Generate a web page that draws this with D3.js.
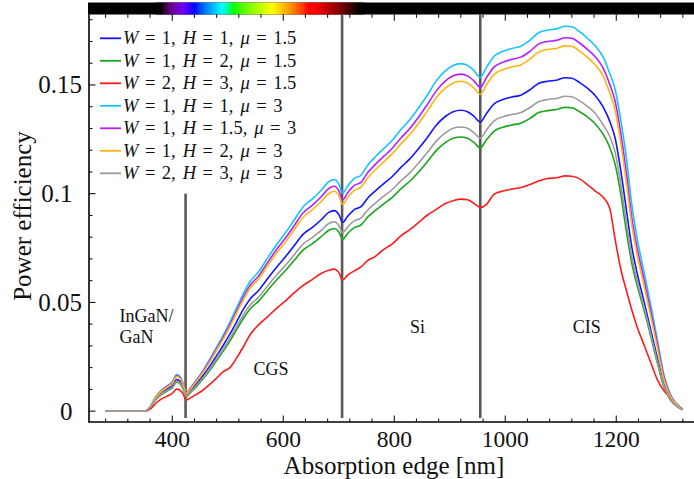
<!DOCTYPE html>
<html><head><meta charset="utf-8">
<script src="https://cdn.jsdelivr.net/npm/d3@7"></script>
<style>
html,body{margin:0;padding:0;background:#fff;}
svg{display:block;font-family:"Liberation Serif","Times New Roman",serif;}
</style></head>
<body><svg id="c" width="694" height="479"></svg>
<script>
// ---- data ----
const wavelengths = [280,350,360,370,380,390,400,408,414,420,425,432,444,456,468,480,492,504,516,528,540,556,572,588,604,620,636,652,668,682,692,700,707,716,728,740,752,766,780,796,812,828,844,860,876,892,906,920,932,944,955,966,980,996,1012,1028,1044,1060,1076,1092,1108,1120,1134,1148,1162,1176,1188,1198,1208,1218,1228,1238,1250,1262,1274,1286,1298,1310,1320];

const effW1H1mu15 = [0,0,0.0017,0.0056,0.0082,0.01,0.0117,0.0145,0.0137,0.0108,0.0071,0.0091,0.0126,0.0165,0.0208,0.0255,0.0303,0.0355,0.0411,0.0468,0.0515,0.0556,0.061,0.0662,0.071,0.0762,0.0814,0.0844,0.0879,0.0914,0.0922,0.0905,0.0868,0.0896,0.0927,0.094,0.0979,0.1013,0.1044,0.1078,0.1121,0.116,0.1208,0.126,0.1316,0.1355,0.1377,0.1384,0.1377,0.1355,0.1329,0.1368,0.1413,0.1433,0.1445,0.1453,0.1477,0.1507,0.1517,0.1522,0.1533,0.1531,0.1511,0.1485,0.1452,0.14,0.1335,0.1255,0.111,0.093,0.0755,0.063,0.0505,0.0375,0.0245,0.0121,0.0055,0.0023,0.0007];
const effW1H2mu15 = [0,0,0.0015,0.0051,0.0075,0.0091,0.0107,0.0133,0.0125,0.0099,0.0065,0.0083,0.0114,0.015,0.0189,0.0233,0.0276,0.0323,0.0375,0.0426,0.0469,0.0507,0.0556,0.0603,0.0647,0.0694,0.0742,0.0769,0.0801,0.0832,0.084,0.0825,0.079,0.0817,0.0844,0.0856,0.0892,0.0923,0.0951,0.0982,0.1022,0.1057,0.11,0.1148,0.1199,0.1235,0.1255,0.1261,0.1255,0.1235,0.1211,0.1247,0.1288,0.1306,0.1316,0.1324,0.1345,0.1373,0.1382,0.1387,0.1397,0.1395,0.1377,0.1353,0.1322,0.1275,0.1215,0.1135,0.1,0.083,0.068,0.0575,0.0465,0.0345,0.0222,0.011,0.005,0.002,0.0006];
const effW2H3mu15 = [0,0,0.0008,0.0035,0.0055,0.0068,0.0082,0.0101,0.0095,0.0077,0.005,0.006,0.0078,0.0098,0.0124,0.0152,0.0182,0.02,0.0245,0.0295,0.035,0.0398,0.0435,0.0473,0.0507,0.0545,0.0578,0.0605,0.0633,0.0648,0.0653,0.0638,0.0603,0.0625,0.0645,0.0663,0.0692,0.0712,0.0742,0.0768,0.0806,0.0835,0.0868,0.0902,0.0928,0.0955,0.0968,0.0975,0.0972,0.0955,0.0937,0.095,0.0998,0.1012,0.1021,0.1028,0.1042,0.1058,0.107,0.1073,0.1082,0.108,0.1068,0.1042,0.1012,0.0985,0.0935,0.079,0.0655,0.0557,0.0465,0.0385,0.0305,0.0225,0.0145,0.0093,0.006,0.003,0.0008];
const effW1H1mu3 = [0,0,0.002,0.0065,0.0095,0.0115,0.0135,0.0168,0.0158,0.0125,0.0082,0.0105,0.0145,0.019,0.024,0.0295,0.035,0.041,0.0475,0.054,0.0595,0.0642,0.0705,0.0765,0.082,0.088,0.094,0.0975,0.1015,0.1055,0.1065,0.1045,0.1002,0.1035,0.107,0.1085,0.113,0.117,0.1205,0.1245,0.1295,0.134,0.1395,0.1455,0.152,0.1565,0.159,0.1598,0.159,0.1565,0.1535,0.158,0.1632,0.1655,0.1668,0.1678,0.1705,0.174,0.1752,0.1758,0.177,0.1768,0.1745,0.1715,0.168,0.163,0.1555,0.148,0.134,0.117,0.095,0.079,0.064,0.049,0.033,0.0165,0.0075,0.003,0.0008];
const effW1H15mu3 = [0,0,0.0019,0.0063,0.0092,0.0112,0.0131,0.0163,0.0153,0.0121,0.008,0.0102,0.0141,0.0184,0.0233,0.0286,0.034,0.0398,0.0461,0.0524,0.0577,0.0623,0.0684,0.0743,0.0796,0.0854,0.0912,0.0946,0.0985,0.1024,0.1034,0.1014,0.0972,0.1004,0.1038,0.1052,0.1096,0.1135,0.1169,0.1208,0.1256,0.13,0.1353,0.1411,0.1474,0.1518,0.1542,0.155,0.1542,0.1518,0.1489,0.1533,0.1583,0.1605,0.1618,0.1628,0.1654,0.1688,0.17,0.1705,0.1717,0.1715,0.1693,0.1664,0.163,0.158,0.1505,0.1425,0.128,0.11,0.089,0.0745,0.0605,0.046,0.031,0.0155,0.007,0.0028,0.0008];
const effW1H2mu3 = [0,0,0.0019,0.0062,0.009,0.0109,0.0128,0.0159,0.015,0.0119,0.0078,0.01,0.0138,0.018,0.0228,0.028,0.0332,0.0389,0.0451,0.0512,0.0565,0.0609,0.0669,0.0726,0.0778,0.0835,0.0892,0.0925,0.0963,0.1001,0.1011,0.0992,0.0951,0.0982,0.1015,0.103,0.1072,0.111,0.1144,0.1182,0.1229,0.1272,0.1324,0.1381,0.1442,0.1485,0.1509,0.1517,0.1509,0.1485,0.1457,0.15,0.1549,0.1571,0.1583,0.1592,0.1618,0.1651,0.1663,0.1668,0.168,0.1678,0.1656,0.1627,0.1593,0.1543,0.1465,0.1385,0.1235,0.1055,0.0855,0.0715,0.0578,0.0438,0.0292,0.0145,0.0066,0.0027,0.0008];
const effW2H3mu3 = [0,0,0.0016,0.0053,0.0078,0.0094,0.011,0.0137,0.0129,0.0102,0.0067,0.0086,0.0119,0.0155,0.0196,0.0241,0.0286,0.0335,0.0389,0.0442,0.0487,0.0525,0.0577,0.0626,0.0671,0.072,0.0769,0.0798,0.083,0.0863,0.0871,0.0855,0.082,0.0847,0.0875,0.0888,0.0924,0.0957,0.0986,0.1018,0.1059,0.1096,0.1141,0.119,0.1243,0.128,0.1301,0.1307,0.1301,0.128,0.1256,0.1292,0.1335,0.1354,0.1364,0.1373,0.1395,0.1423,0.1433,0.1438,0.1448,0.1446,0.1427,0.1402,0.137,0.1318,0.1265,0.119,0.1045,0.087,0.071,0.0595,0.048,0.0355,0.023,0.0115,0.005,0.0021,0.0007];

const seriesValues = [effW1H1mu15, effW1H2mu15, effW2H3mu15, effW1H1mu3, effW1H15mu3, effW1H2mu3, effW2H3mu3];
const seriesW  = ["1","1","2","1","1","1","2"];
const seriesH  = ["1","2","3","1","1.5","2","3"];
const seriesMu = ["1.5","1.5","1.5","3","3","3","3"];
const seriesColors = ["#1414ff","#1aa51a","#ff1a1a","#14c4ff","#b41eff","#ffb414","#9b9b9b"];

const xMajorTicks = [400,600,800,1000,1200];
const yMajorTicks = [0,0.05,0.1,0.15];
const yTickLabels = ["0","0.05","0.1","0.15"];
const edgeWavelengths = [424,706,955];
const edgeTops = [0.1,0.1825,0.1825];
const regionLabels = [
  {lines:["InGaN/","GaN"], nm:305, v:0.041},
  {lines:["CGS"], nm:578, v:0.0165},
  {lines:["Si"], nm:842, v:0.036},
  {lines:["CIS"], nm:1147, v:0.036}
];

// ---- drawing ----
const svg = d3.select("#c");
const W = 694, H = 479;
const x = d3.scaleLinear().domain([250,1350]).range([89,699.5]);
const y = d3.scaleLinear().domain([-0.005,0.1825]).range([422,14.3]);
const leftX = 89, bottomY = 422, topY = 14.3;

// spectrum color bar
function wlColor(w){
  let r=0,g=0,b=0;
  if(w>=380&&w<440){r=-(w-440)/60;b=1;}
  else if(w>=440&&w<490){g=(w-440)/50;b=1;}
  else if(w>=490&&w<510){g=1;b=-(w-510)/20;}
  else if(w>=510&&w<580){r=(w-510)/70;g=1;}
  else if(w>=580&&w<645){r=1;g=-(w-645)/65;}
  else if(w>=645&&w<=780){r=1;}
  let f=0;
  if(w<380) f=0; else if(w<420) f=(w-380)/40; else if(w<=655) f=1; else if(w<735) f=(735-w)/80; else f=0;
  const c=v=>Math.round(255*Math.pow(Math.max(0,v*f),0.8));
  return `rgb(${c(r)},${c(g)},${c(b)})`;
}
const bar = svg.append("g");
bar.append("rect").attr("x",leftX-1).attr("y",2.5).attr("width",W-leftX+1).attr("height",12).attr("fill","#000");
for(let px=Math.floor(leftX); px<W; px++){
  const w = x.invert(px+0.5);
  if(w>370 && w<745){
    bar.append("rect").attr("x",px).attr("y",2.5).attr("width",1.05).attr("height",12).attr("fill",wlColor(w));
  }
}

// clip
svg.append("clipPath").attr("id","clip").append("rect").attr("x",leftX).attr("y",topY).attr("width",W-leftX).attr("height",bottomY-topY);

// edge lines
svg.append("g").selectAll("line").data(edgeWavelengths).join("line")
  .attr("x1",d=>x(d)).attr("x2",d=>x(d))
  .attr("y1",(d,i)=>y(edgeTops[i])).attr("y2",418)
  .attr("stroke","#5a5a5a").attr("stroke-width",2.6);

// series
const line = d3.line().x((d,i)=>x(wavelengths[i])).y(d=>y(d)).curve(d3.curveMonotoneX);
svg.append("g").attr("clip-path","url(#clip)").selectAll("path").data(seriesValues).join("path")
  .attr("d",d=>line(d)).attr("fill","none")
  .attr("stroke",(d,i)=>seriesColors[i]).attr("stroke-width",1.6).attr("stroke-linejoin","round");

// axes
const ax = svg.append("g").attr("stroke","#000");
ax.append("line").attr("x1",leftX).attr("x2",W).attr("y1",bottomY).attr("y2",bottomY).attr("stroke-width",1.6);
ax.append("line").attr("x1",leftX).attr("x2",leftX).attr("y1",topY).attr("y2",bottomY+0.8).attr("stroke-width",1.6);
const xMinor = d3.range(280,1350,40).filter(v=>!xMajorTicks.includes(v));
xMinor.forEach(v=>{
  ax.append("line").attr("x1",x(v)).attr("x2",x(v)).attr("y1",bottomY).attr("y2",bottomY-3.5).attr("stroke-width",1);
  ax.append("line").attr("x1",x(v)).attr("x2",x(v)).attr("y1",topY).attr("y2",topY+3.5).attr("stroke-width",1);
});
xMajorTicks.forEach(v=>{
  ax.append("line").attr("x1",x(v)).attr("x2",x(v)).attr("y1",bottomY).attr("y2",bottomY-6.5).attr("stroke-width",1);
  ax.append("line").attr("x1",x(v)).attr("x2",x(v)).attr("y1",topY).attr("y2",topY+6.5).attr("stroke-width",1);
});
const yMinor = d3.range(0,0.1825,0.01).map(v=>+v.toFixed(3)).filter(v=>!yMajorTicks.some(t=>Math.abs(t-v)<1e-6));
yMinor.forEach(v=>{
  ax.append("line").attr("x1",leftX).attr("x2",leftX+3.5).attr("y1",y(v)).attr("y2",y(v)).attr("stroke-width",1);
});
yMajorTicks.forEach(v=>{
  ax.append("line").attr("x1",leftX).attr("x2",leftX+6.5).attr("y1",y(v)).attr("y2",y(v)).attr("stroke-width",1);
});

// tick labels
svg.append("g").selectAll("text").data(xMajorTicks).join("text")
  .attr("x",d=>x(d)).attr("y",447).attr("text-anchor","middle")
  .attr("font-size",23.5).attr("fill","#111").text(d=>d);
svg.append("g").selectAll("text").data(yMajorTicks).join("text")
  .attr("x",(d,i)=>yTickLabels[i].length>3?82:72.5).attr("y",d=>y(d)+8.5).attr("text-anchor","end")
  .attr("font-size",25).attr("fill","#111").text((d,i)=>yTickLabels[i]);

// axis titles
svg.append("text").attr("x",394).attr("y",473.5).attr("text-anchor","middle")
  .attr("font-size",25).attr("fill","#111").text("Absorption edge [nm]");
svg.append("text").attr("transform","translate(31,216) rotate(-90)").attr("text-anchor","middle")
  .attr("font-size",25).attr("fill","#111").text("Power efficiency");

// region labels
regionLabels.forEach(r=>{
  const t = svg.append("text").attr("font-size",18).attr("fill","#111");
  r.lines.forEach((s,k)=>{
    t.append("tspan").attr("x",x(r.nm)).attr("y",y(r.v)+k*21).attr("text-anchor", r.lines.length>1?"start":"middle").text(s);
  });
});

// legend
const lg = svg.append("g");
seriesColors.forEach((c,i)=>{
  const cy = 38.3 + i*22.5;
  lg.append("line").attr("x1",100).attr("x2",121).attr("y1",cy).attr("y2",cy).attr("stroke",c).attr("stroke-width",1.8);
  const t = lg.append("text").attr("x",123).attr("y",cy+6).attr("font-size",18.5).attr("fill","#111");
  const parts = [
    ["W",true,0],["=",false,6.5],[seriesW[i]+",",false,6.5],
    ["H",true,7],["=",false,6.5],[seriesH[i]+",",false,6.5],
    ["μ",true,7],["=",false,6.5],[seriesMu[i],false,6.5]
  ];
  parts.forEach(p=>{
    const s = t.append("tspan").attr("dx",p[2]).text(p[0]);
    if(p[1]) s.attr("font-style","italic");
  });
});
</script></body></html>
